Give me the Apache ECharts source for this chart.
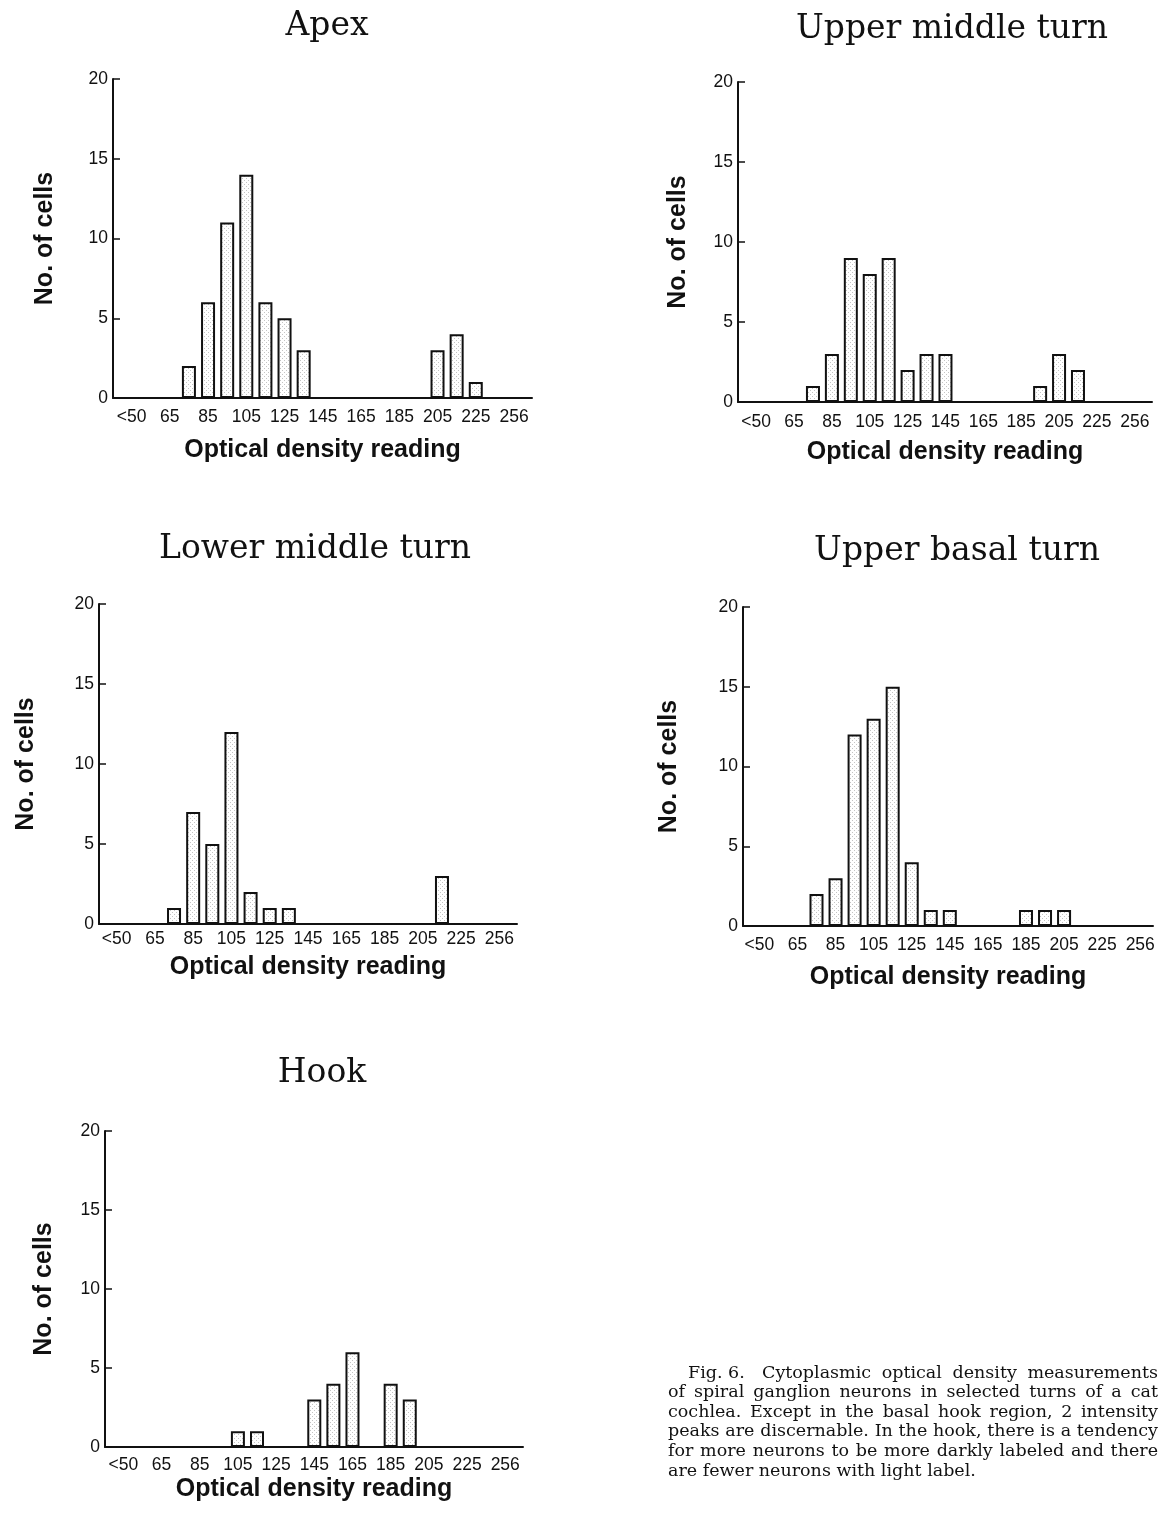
<!DOCTYPE html>
<html>
<head>
<meta charset="utf-8">
<script src="https://cdn.jsdelivr.net/npm/echarts@6/dist/echarts.min.js"></script>
<style>
html,body{margin:0;padding:0;background:#fff;}
#main{width:1159px;height:1516px;}
</style>
</head>
<body>
<div id="main"></div>
<script>
// ---- data ----
const tickLabels = ["<50","65","85","105","125","145","165","185","205","225","256"];
// bins indexed 0..20 (two bins between each labelled value)
const binIndex = [0,1,2,3,4,5,6,7,8,9,10,11,12,13,14,15,16,17,18,19,20];
const apex        = [0,0,0,2,6,11,14,6,5,3,0,0,0,0,0,0,3,4,1,0,0];
const upperMiddle = [0,0,0,1,3,9,8,9,2,3,3,0,0,0,0,1,3,2,0,0,0];
const lowerMiddle = [0,0,0,1,7,5,12,2,1,1,0,0,0,0,0,0,0,3,0,0,0];
const upperBasal  = [0,0,0,2,3,12,13,15,4,1,1,0,0,0,1,1,1,0,0,0,0];
const hook        = [0,0,0,0,0,0,1,1,0,0,3,4,6,0,4,3,0,0,0,0,0];
const panelTitles = ["Apex","Upper middle turn","Lower middle turn","Upper basal turn","Hook"];
const yTicks = [0,5,10,15,20];
const xName = "Optical density reading";
const yName = "No. of cells";
const captionLead = "Fig. 6.";
const captionLines = [
  "Cytoplasmic optical density measurements",
  "of spiral ganglion neurons in selected turns of a cat",
  "cochlea. Except in the basal hook region, 2 intensity",
  "peaks are discernable. In the hook, there is a tendency",
  "for more neurons to be more darkly labeled and there",
  "are fewer neurons with light label."
];
const seriesData = [apex, upperMiddle, lowerMiddle, upperBasal, hook];

// ---- layout ----
const panels = [
  {grid:[113,79,419,319], xr:[-0.97,20.94], t:[327,25], xg:52, yg:55, lm:10},
  {grid:[738,82,414,320], xr:[-0.96,20.91], t:[952,28], xg:50, yg:47, lm:11},
  {grid:[99,604,418,320], xr:[-0.92,20.92], t:[315,548], xg:43, yg:60, lm:6},
  {grid:[743,607,410,319], xr:[-0.86,20.67], t:[957,550], xg:51, yg:61, lm:10},
  {grid:[105,1131,418,316], xr:[-0.96,20.93], t:[322,1072], xg:42, yg:48, lm:9}
];

// stipple pattern
const pc = document.createElement('canvas');
pc.width = 4; pc.height = 4;
const pctx = pc.getContext('2d');
pctx.fillStyle = '#ffffff'; pctx.fillRect(0,0,4,4);
pctx.fillStyle = '#c4c4c4'; pctx.fillRect(0,0,1,1); pctx.fillRect(2,2,1,1);

const labelValues = tickLabels.map((_, i) => i * 2);
const sansFont = '"Liberation Sans", Arial, sans-serif';
const serifFont = '"DejaVu Serif", serif';

const grids = [], xAxes = [], yAxes = [], series = [], graphics = [];
panels.forEach((p, i) => {
  grids.push({left:p.grid[0], top:p.grid[1], width:p.grid[2], height:p.grid[3], containLabel:false});
  xAxes.push({
    type:'value', gridIndex:i, min:p.xr[0], max:p.xr[1],
    axisLine:{show:true, onZero:false, lineStyle:{color:'#111', width:2}},
    axisTick:{show:false},
    splitLine:{show:false},
    axisLabel:{
      customValues: labelValues,
      showMinLabel:true, showMaxLabel:true,
      margin:p.lm, color:'#111', fontSize:17.5, fontFamily:sansFont,
      formatter: v => { const k = Math.round(v); return (Math.abs(v-k) < 1e-6 && k % 2 === 0) ? tickLabels[k/2] : ''; }
    },
    name:xName, nameLocation:'middle', nameGap:p.xg,
    nameTextStyle:{fontSize:25, fontWeight:'bold', color:'#111', fontFamily:sansFont, verticalAlign:'middle'}
  });
  yAxes.push({
    type:'value', gridIndex:i, min:yTicks[0], max:yTicks[yTicks.length-1], interval:5,
    axisLine:{show:true, onZero:false, lineStyle:{color:'#111', width:2}},
    axisTick:{show:true, inside:true, length:7, lineStyle:{color:'#111', width:1.5}},
    splitLine:{show:false},
    axisLabel:{margin:5, color:'#111', fontSize:17.5, fontFamily:sansFont},
    name:yName, nameLocation:'middle', nameGap:p.yg,
    nameTextStyle:{fontSize:25, fontWeight:'bold', color:'#111', fontFamily:sansFont}
  });
  series.push({
    type:'bar', xAxisIndex:i, yAxisIndex:i, barWidth:14,
    data: binIndex.map(k => [k, seriesData[i][k]]),
    itemStyle:{color:{image:pc, repeat:'repeat'}, borderColor:'#111', borderWidth:2},
    silent:true
  });
  graphics.push({
    type:'text', x:p.t[0], y:p.t[1] + 1,
    style:{text:panelTitles[i], fill:'#111', font:'33px ' + serifFont, align:'center', verticalAlign:'middle'}
  });
});

// justified caption (word positions computed from measured text widths)
const capFont = '17.5px ' + serifFont;
const mctx = document.createElement('canvas').getContext('2d');
mctx.font = capFont;
const capLeft = 668, capRight = 1158, capTop = 1373, capLine = 19.6;
graphics.push({
  type:'text', x:688, y:capTop,
  style:{text:captionLead, fill:'#111', font:capFont, align:'left', verticalAlign:'middle'}
});
captionLines.forEach((line, j) => {
  const x0 = j === 0 ? 762 : capLeft;
  const y = capTop + j * capLine;
  const words = line.split(/\s+/);
  const last = j === captionLines.length - 1;
  const widths = words.map(w => mctx.measureText(w).width);
  const total = widths.reduce((a, b) => a + b, 0);
  const spaceW = mctx.measureText(' ').width;
  const gap = last ? spaceW : Math.max(spaceW * 0.7, (capRight - x0 - total) / (words.length - 1));
  let x = x0;
  words.forEach((w, k) => {
    graphics.push({
      type:'text', x:x, y:y,
      style:{text:w, fill:'#111', font:capFont, align:'left', verticalAlign:'middle'}
    });
    x += widths[k] + gap;
  });
});

const chart = echarts.init(document.getElementById('main'), null, {renderer:'canvas'});
chart.setOption({
  backgroundColor:'#ffffff',
  animation:false,
  grid:grids, xAxis:xAxes, yAxis:yAxes, series:series,
  graphic:graphics
});
</script>
</body>
</html>
